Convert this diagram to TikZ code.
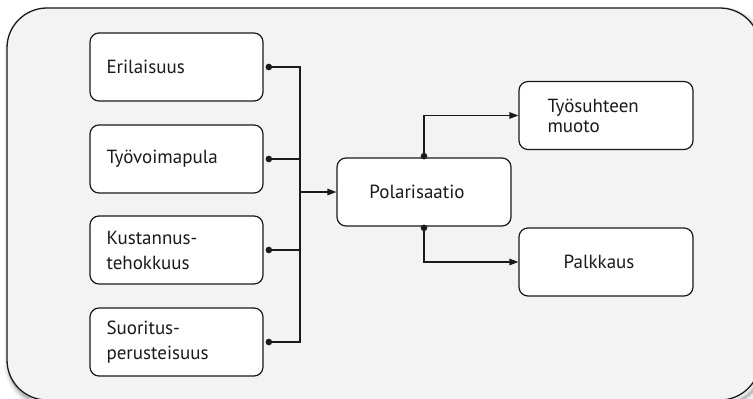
\documentclass[tikz,border=0pt]{standalone}
\usepackage{fontspec}
\setmainfont{PT Sans}
\usetikzlibrary{arrows.meta}
\definecolor{panel}{HTML}{F3F3F3}
\definecolor{ink}{HTML}{1A1A1A}
\begin{document}
\begin{tikzpicture}[x=1pt,y=-1pt,
  box/.style={draw=ink, line width=1.2pt, fill=white, rounded corners=9pt,
    minimum height=68pt, font=\fontsize{19}{25}\selectfont, text=ink},
  leftbox/.style={box, text width=140pt, align=left, inner xsep=16.5pt, inner ysep=0pt},
  rightbox/.style={box, minimum width=174pt, align=center},
  link/.style={draw=ink, line width=1.3pt},
  dotlink/.style={link, {Circle[length=6.5pt]}-},
  arrowlink/.style={link, -{Triangle[length=9pt,width=6.5pt]}},
  dotarrow/.style={link, {Circle[length=6.5pt]}-{Triangle[length=9pt,width=6.5pt]}}]
\useasboundingbox (0,0) rectangle (753,399);
\clip (0,0) rectangle (753,399);
% shadow
\foreach \w/\o in {10/0.04,7/0.06,4/0.08,2/0.12}{
  \draw[line width=\w pt, black, opacity=\o, rounded corners=40pt]
    (9,12) rectangle (763,404);
}
\draw[line width=1.3pt, draw=ink, fill=panel, rounded corners=40pt]
  (7,8) rectangle (760,400);
% nodes
\node[leftbox] (e1) at (176.5,67) {Erilaisuus};
\node[leftbox] (e2) at (176.5,159) {Työvoimapula};
\node[leftbox] (e3) at (176.5,250) {Kustannus-\\tehokkuus};
\node[leftbox] (e4) at (176.5,342) {Suoritus-\\perusteisuus};
\node[rightbox] (p) at (424,192) {Polarisaatio\hspace*{14pt}};
\node[box, minimum width=174pt, text width=117pt, align=left, inner xsep=28.5pt, inner ysep=0pt,
  font=\fontsize{19}{20}\selectfont] (t) at (606,115.5) {Työsuhteen\\muoto};
\node[rightbox] (k) at (606,262) {Palkkaus\hspace*{14pt}};
% junction
\coordinate (j) at (300,192);
\draw[dotlink] ([xshift=2pt]e1.east) -| (j);
\draw[dotlink] ([xshift=2pt]e2.east) -| (j);
\draw[dotlink] ([xshift=2pt]e3.east) -| (j);
\draw[dotlink] ([xshift=2pt]e4.east) -| (j);
\draw[arrowlink] (j) -- (p.west);
\draw[dotarrow] ([yshift=-2pt]p.north) |- (t.west);
\draw[dotarrow] ([yshift=2pt]p.south) |- (k.west);
\end{tikzpicture}
\end{document}
